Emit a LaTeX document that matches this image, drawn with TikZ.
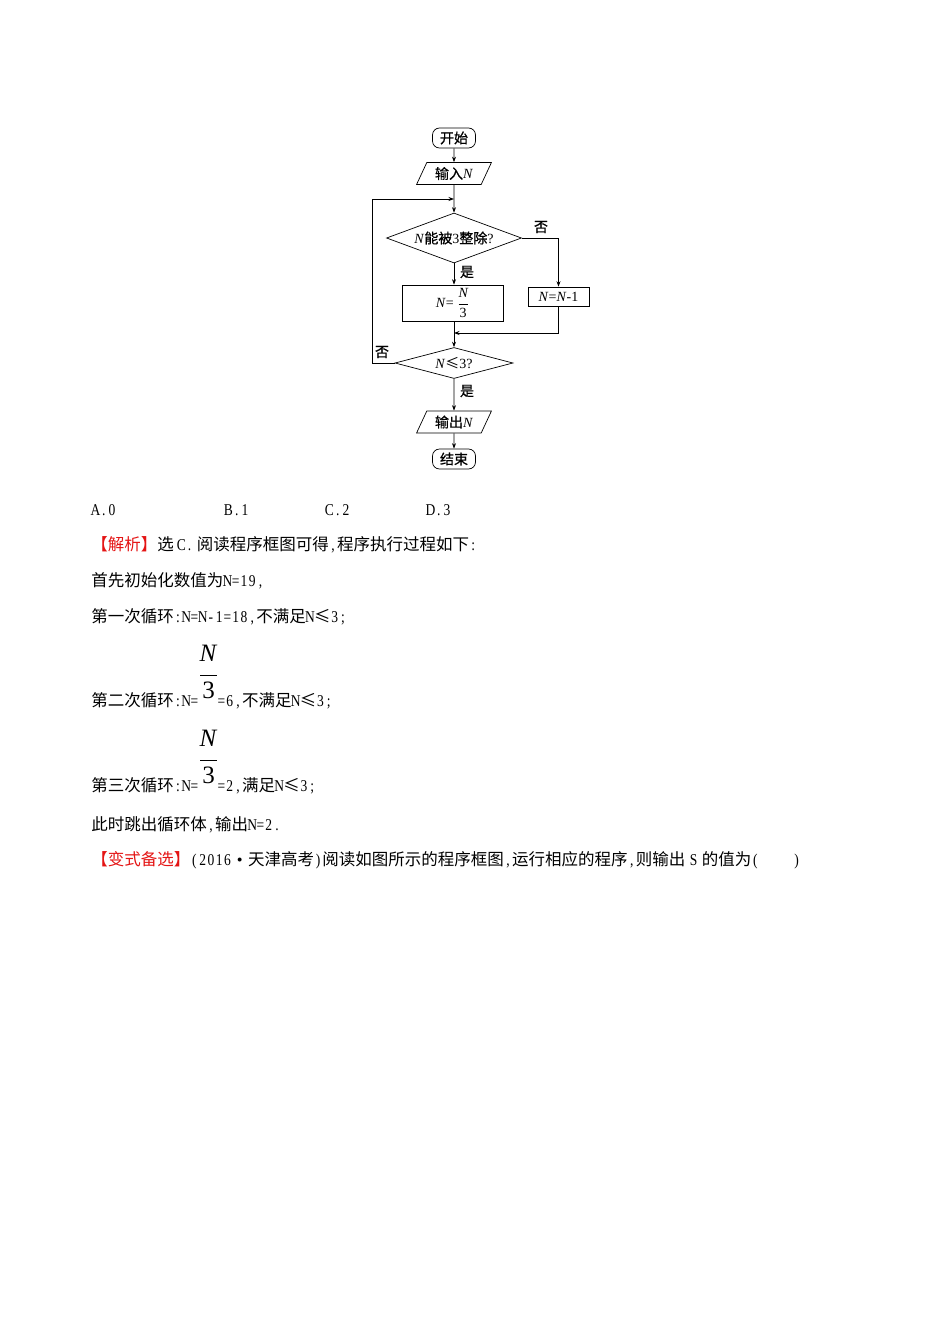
\documentclass[tikz,border=0pt]{standalone}
\usepackage{fontspec}
\setmainfont{Liberation Serif}
\newfontfamily\cjk{Noto Sans CJK SC}
\newfontfamily\cjkfc[FakeBold=0.8]{Noto Sans CJK SC}
\newfontfamily\hwf[FakeStretch=0.82]{Liberation Serif}
\usetikzlibrary{shapes.geometric,arrows.meta}
\definecolor{jred}{RGB}{228,20,20}
\def\hw#1{{\hwf\hwloop#1\relax}}
\def\hwloop#1{\ifx#1\relax\else\makebox[0.5em]{#1}\expandafter\hwloop\fi}
\begin{document}
\begin{tikzpicture}[x=1pt,y=-1pt,
  line width=0.7pt,
  arr/.style={-{Stealth[length=5.5pt,width=4pt]}},
  fc/.style={font=\fontsize{14}{15}\selectfont},
  term/.style={draw,rounded corners=7pt,minimum width=43pt,minimum height=20pt,inner sep=0pt,fc},
  io/.style={draw,trapezium,trapezium left angle=61,trapezium right angle=119,trapezium stretches=true,minimum width=75pt,minimum height=22pt,inner sep=0pt,fc},
  dec/.style={draw,diamond,aspect=2.7,inner sep=0pt,fc},
  proc/.style={draw,rectangle,inner sep=0pt,fc},
  lab/.style={inner sep=0pt,fc},
  body/.style={anchor=base west,inner sep=0pt,font=\fontsize{16.5}{18}\selectfont},
  big/.style={inner sep=0pt,font=\fontsize{25}{27}\selectfont}
]
\useasboundingbox (0,0) rectangle (950,1344);

% ---------- flowchart ----------
\node[term] (start) at (454,138) {\cjkfc 开始};
\node[io] (in) at (454,173.5) {{\cjkfc 输入}\textit{N}};
\node[dec,minimum width=135pt,minimum height=50pt] (d1) at (454,238) {\textit{N}{\cjkfc 能被}3{\cjkfc 整除}?};
\node[proc,minimum width=101pt,minimum height=36pt] (b1) at (452.5,303) {\textit{N}= $\displaystyle\frac{\textit{N}}{\mbox{3}}$};
\node[proc,minimum width=61pt,minimum height=19pt] (b2) at (558.5,296.5) {\textit{N}=\textit{N}-1};
\node[dec,minimum width=118pt,minimum height=31pt] (d2) at (454,363) {\textit{N}{\cjk ≤}3?};
\node[io] (out) at (454,422) {{\cjkfc 输出}\textit{N}};
\node[term] (end) at (454,459) {\cjkfc 结束};

\node[lab] (l1) at (541,227) {\cjkfc 否};
\node[lab] (l2) at (467,272) {\cjkfc 是};
\node[lab] (l3) at (382,352) {\cjkfc 否};
\node[lab] (l4) at (467,391) {\cjkfc 是};

\coordinate (lp) at (372,199);
\coordinate (j1) at (454,199);
\coordinate (m) at (454,333);

\draw[arr] (start) -- (in);
\draw[arr] (in) -- (d1);
\draw[arr] (d2.west) -| (lp) -- (j1);
\draw[arr] (d1.south) -- (d1.south |- b1.north);
\draw[arr] (d1.east) -| (b2.north);
\draw[arr] (b2.south) |- (m);
\draw[arr] (d2.north |- b1.south) -- (d2.north);
\draw[arr] (d2.south) -- (out);
\draw[arr] (out) -- (end);

% ---------- text ----------
\node[body] (oa) at (91,515) {\hw{A.0}};
\node[body] (ob) at (224,515) {\hw{B.1}};
\node[body] (oc) at (325,515) {\hw{C.2}};
\node[body] (od) at (426,515) {\hw{D.3}};

\node[body] (t1) at (91,550) {{\cjk\color{jred}【解析】}{\cjk 选}\kern0.2em\hw{C.}\kern0.2em{\cjk 阅读程序框图可得}\hw{,}{\cjk 程序执行过程如下}\hw{:}};
\node[body] (t2) at (91,586) {{\cjk 首先初始化数值为}\hw{N=19,}};
\node[body] (t3) at (91,622) {{\cjk 第一次循环}\hw{:N=N-1=18,}{\cjk 不满足}\hw{N}{\cjk ≤}\hw{3;}};

\node[body] (t4) at (91,706) {{\cjk 第二次循环}\hw{:N=}};
\node[big] (f1n) at (208.5,653) {\textit{N}};
\node[big] (f1d) at (208.5,690) {3};
\draw[line width=0.8pt] (200,675) -- (217,675);
\node[body] (t4b) at (217,706) {\hw{=6,}{\cjk 不满足}\hw{N}{\cjk ≤}\hw{3;}};

\node[body] (t5) at (91,791) {{\cjk 第三次循环}\hw{:N=}};
\node[big] (f2n) at (208.5,738) {\textit{N}};
\node[big] (f2d) at (208.5,775) {3};
\draw[line width=0.8pt] (200,760) -- (217,760);
\node[body] (t5b) at (217,791) {\hw{=2,}{\cjk 满足}\hw{N}{\cjk ≤}\hw{3;}};

\node[body] (t6) at (91,830) {{\cjk 此时跳出循环体}\hw{,}{\cjk 输出}\hw{N=2.}};
\node[body] (t7) at (91,865) {{\cjk\color{jred}【变式备选】}\hw{(2016}\makebox[1em]{•}{\cjk 天津高考}\hw{)}{\cjk 阅读如图所示的程序框图}\hw{,}{\cjk 运行相应的程序}\hw{,}{\cjk 则输出}\kern0.25em\hw{S}\kern0.25em{\cjk 的值为}\hw{(}\hspace{2em}\hw{)}};
\end{tikzpicture}
\end{document}
